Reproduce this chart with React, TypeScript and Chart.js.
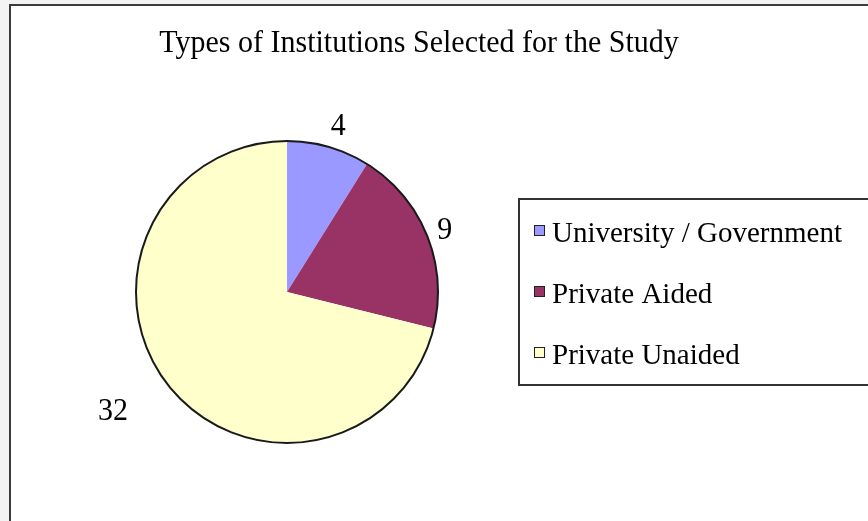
import React, { useEffect, useRef } from "react";
import { Chart, registerables } from "chart.js";
Chart.register(...registerables);

const chartTitle = "Types of Institutions Selected for the Study";
const categories = ["University / Government", "Private Aided", "Private Unaided"];
const values = [4, 9, 32];
const colors = ["#9999FF", "#993366", "#FFFFCC"];

const SERIF = "'Liberation Serif', 'Times New Roman', serif";
// per-label pixel nudges (style only)
const labelNudge = [[4, 0], [0, 2], [-34, 10]];

function stretchedText(ctx: CanvasRenderingContext2D, t: string, x: number, y: number, sy: number) {
  ctx.save();
  ctx.translate(x, y);
  ctx.scale(1, sy);
  ctx.fillText(t, 0, 0);
  ctx.restore();
}

export default function App() {
  const ref = useRef<HTMLCanvasElement>(null);
  useEffect(() => {
    document.body.style.margin = "0";
    const canvas = ref.current!;
    const excelPlugin = {
      id: "excelPie",
      afterDatasetsDraw(chart: any) {
        const ctx = chart.ctx as CanvasRenderingContext2D;
        const meta = chart.getDatasetMeta(0);
        const a0 = meta.data[0].getProps(["x", "y", "outerRadius"], true);
        const cx = a0.x, cy = a0.y, R = a0.outerRadius;
        ctx.save();
        // outer outline
        ctx.beginPath();
        ctx.arc(cx, cy, R, 0, Math.PI * 2);
        ctx.lineWidth = 2;
        ctx.strokeStyle = "#1a1a1a";
        ctx.stroke();

        // title
        ctx.fillStyle = "#000";
        ctx.font = `30px ${SERIF}`;
        ctx.textAlign = "center";
        ctx.textBaseline = "alphabetic";
        stretchedText(ctx, chartTitle, 419, 52, 1.06);

        // data labels
        ctx.font = `30px ${SERIF}`;
        ctx.textBaseline = "middle";
        meta.data.forEach((el: any, i: number) => {
          const p = el.getProps(["startAngle", "endAngle"], true);
          const mid = (p.startAngle + p.endAngle) / 2;
          const t = String(values[i]);
          const hw = ctx.measureText(t).width / 2;
          const hh = 11;
          const c = Math.cos(mid), s = Math.sin(mid);
          const ext = Math.abs(c) * hw + Math.abs(s) * hh;
          const d = R + 8 + ext;
          stretchedText(ctx, t, cx + c * d + labelNudge[i][0], cy + s * d + labelNudge[i][1], 1.05);
        });

        // legend box
        ctx.lineWidth = 2;
        ctx.strokeStyle = "#333";
        ctx.strokeRect(519, 199, 380, 186);
        ctx.textAlign = "left";
        ctx.textBaseline = "alphabetic";
        ctx.font = `29px ${SERIF}`;
        categories.forEach((name, i) => {
          const base = 242 + i * 61;
          ctx.fillStyle = colors[i];
          ctx.fillRect(535, base - 16, 9, 9);
          ctx.lineWidth = 1;
          ctx.strokeStyle = "#222";
          ctx.strokeRect(534.5, base - 16.5, 10, 10);
          ctx.fillStyle = "#000";
          stretchedText(ctx, name, 552, base, 1.04);
        });
        ctx.restore();
      },
    };

    const chart = new Chart(canvas, {
      type: "pie",
      data: {
        labels: categories,
        datasets: [
          {
            data: values,
            backgroundColor: colors,
            borderWidth: 0,
          },
        ],
      },
      options: {
        animation: false,
        responsive: false,
        devicePixelRatio: 1,
        layout: { padding: { left: 136, right: 430, top: 141, bottom: 78 } },
        plugins: {
          legend: { display: false },
          title: { display: false },
          tooltip: { enabled: false },
        },
      },
      plugins: [excelPlugin],
    });
    return () => chart.destroy();
  }, []);

  return (
    <div
      style={{
        position: "fixed",
        left: 0,
        top: 0,
        width: 868,
        height: 521,
        overflow: "hidden",
        background: "#f3f3f3",
      }}
    >
      <div
        style={{
          position: "absolute",
          left: 9,
          top: 4,
          width: 900,
          height: 600,
          background: "#fff",
          borderLeft: "2px solid #3c3c3c",
          borderTop: "2px solid #3c3c3c",
        }}
      />
      <canvas
        ref={ref}
        width={868}
        height={521}
        style={{ position: "absolute", left: 0, top: 0, width: 868, height: 521 }}
      />
    </div>
  );
}
